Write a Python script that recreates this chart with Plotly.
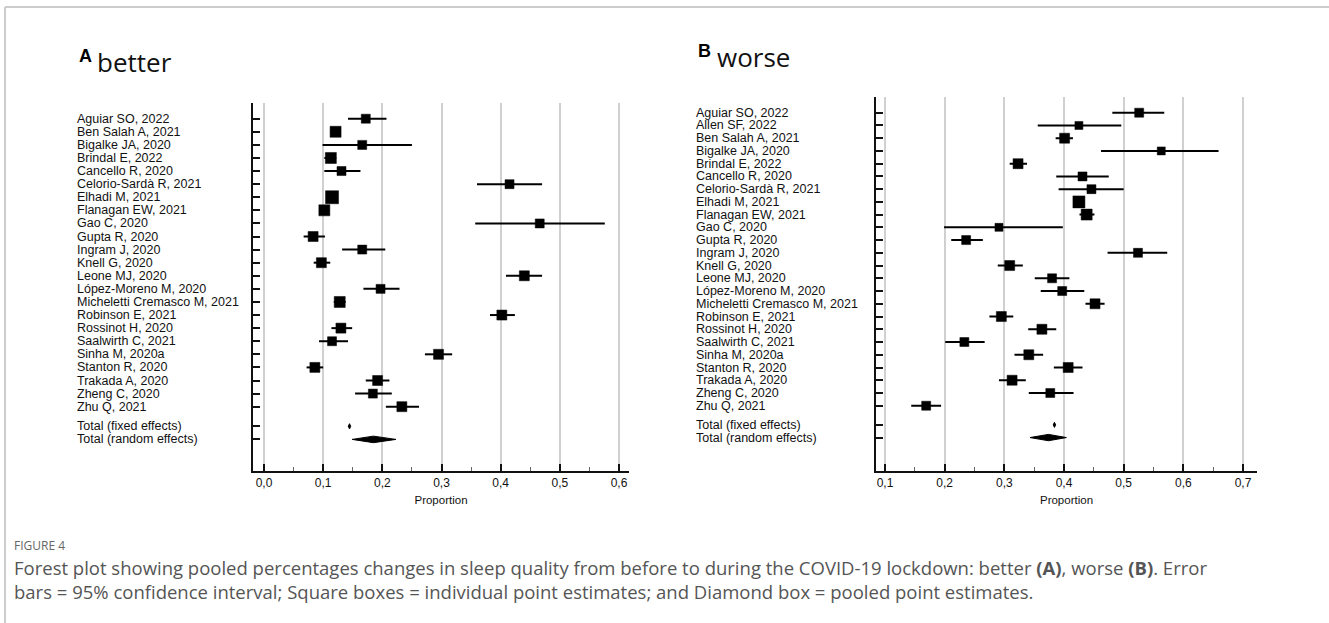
import plotly.graph_objects as go

# ---------------- data ----------------
studies_a = ["Aguiar SO, 2022", "Ben Salah A, 2021", "Bigalke JA, 2020", "Brindal E, 2022",
             "Cancello R, 2020", "Celorio-Sardà R, 2021", "Elhadi M, 2021", "Flanagan EW, 2021",
             "Gao C, 2020", "Gupta R, 2020", "Ingram J, 2020", "Knell G, 2020", "Leone MJ, 2020",
             "López-Moreno M, 2020", "Micheletti Cremasco M, 2021", "Robinson E, 2021",
             "Rossinot H, 2020", "Saalwirth C, 2021", "Sinha M, 2020a", "Stanton R, 2020",
             "Trakada A, 2020", "Zheng C, 2020", "Zhu Q, 2021"]
est_a = [0.172, 0.121, 0.166, 0.113, 0.131, 0.415, 0.115, 0.102, 0.466, 0.083, 0.166, 0.097, 0.440,
         0.197, 0.128, 0.402, 0.130, 0.115, 0.295, 0.086, 0.192, 0.184, 0.233]
lo_a = [0.142, 0.112, 0.099, 0.102, 0.102, 0.360, 0.107, 0.095, 0.357, 0.067, 0.132, 0.084, 0.409,
        0.168, 0.118, 0.382, 0.114, 0.093, 0.272, 0.072, 0.172, 0.154, 0.206]
hi_a = [0.207, 0.130, 0.250, 0.122, 0.163, 0.470, 0.125, 0.110, 0.576, 0.103, 0.205, 0.112, 0.470,
        0.229, 0.138, 0.424, 0.149, 0.142, 0.318, 0.100, 0.212, 0.216, 0.262]
pooled_labels = ["Total (fixed effects)", "Total (random effects)"]
pooled_est_a = [0.1445, 0.185]
pooled_lo_a = [0.1425, 0.149]
pooled_hi_a = [0.1465, 0.223]

studies_b = ["Aguiar SO, 2022", "Allen SF, 2022", "Ben Salah A, 2021", "Bigalke JA, 2020",
             "Brindal E, 2022", "Cancello R, 2020", "Celorio-Sardà R, 2021", "Elhadi M, 2021",
             "Flanagan EW, 2021", "Gao C, 2020", "Gupta R, 2020", "Ingram J, 2020", "Knell G, 2020",
             "Leone MJ, 2020", "López-Moreno M, 2020", "Micheletti Cremasco M, 2021",
             "Robinson E, 2021", "Rossinot H, 2020", "Saalwirth C, 2021", "Sinha M, 2020a",
             "Stanton R, 2020", "Trakada A, 2020", "Zheng C, 2020", "Zhu Q, 2021"]
est_b = [0.526, 0.425, 0.401, 0.563, 0.323, 0.431, 0.446, 0.425, 0.438, 0.291, 0.236, 0.524, 0.309,
         0.380, 0.397, 0.452, 0.295, 0.363, 0.233, 0.341, 0.407, 0.313, 0.377, 0.169]
lo_b = [0.481, 0.356, 0.386, 0.462, 0.309, 0.387, 0.391, 0.417, 0.426, 0.199, 0.211, 0.473, 0.289,
        0.351, 0.361, 0.436, 0.275, 0.340, 0.201, 0.317, 0.383, 0.291, 0.341, 0.144]
hi_b = [0.568, 0.496, 0.415, 0.659, 0.338, 0.475, 0.500, 0.434, 0.451, 0.398, 0.264, 0.573, 0.331,
        0.409, 0.434, 0.468, 0.315, 0.387, 0.267, 0.365, 0.431, 0.336, 0.416, 0.194]
pooled_est_b = [0.384, 0.374]
pooled_lo_b = [0.382, 0.343]
pooled_hi_b = [0.386, 0.404]

x_ticks_a = [0.0, 0.1, 0.2, 0.3, 0.4, 0.5, 0.6]
x_ticks_b = [0.1, 0.2, 0.3, 0.4, 0.5, 0.6, 0.7]

caption_title = "FIGURE 4"
caption_text = ("Forest plot showing pooled percentages changes in sleep quality from before to during the "
                "COVID-19 lockdown: better <b>(A)</b>, worse <b>(B)</b>. Error<br>"
                "bars = 95% confidence interval; Square boxes = individual point estimates; "
                "and Diamond box = pooled point estimates.")

# ---------------- style ----------------
size_a = [9, 11, 9, 11, 9, 9, 13, 11, 9, 10, 9, 10, 10, 9, 11, 10, 10, 9, 10, 10, 10, 9, 10]
size_b = [9, 8, 10, 8, 10, 9, 9, 12, 11, 8, 9, 9, 10, 9, 9, 10, 10, 10, 9, 10, 10, 10, 9, 9]
diamond_half = [0.2, 0.25]

W, H = 1329, 623
FONT = "Liberation Sans, Arial, sans-serif"


def px_x(p):
    return p / W


def px_y(p):
    return 1 - p / H


fig = go.Figure()


def add_panel(studies, est, lo, hi, p_est, p_lo, p_hi, sizes, xa, ya):
    n = len(studies)
    rows = list(range(n))
    fig.add_trace(go.Scatter(
        x=est, y=rows, mode="markers", xaxis=xa, yaxis=ya, showlegend=False,
        marker=dict(symbol="square", size=sizes, color="#000000", opacity=1,
                    line=dict(width=0.5, color="#000000")),
        error_x=dict(type="data", symmetric=False,
                     array=[h - e for h, e in zip(hi, est)],
                     arrayminus=[e - l for e, l in zip(est, lo)],
                     width=0, thickness=2, color="#000000"),
        hoverinfo="skip"))
    prow = [n - 1 + 1.5, n - 1 + 2.5]
    for k in range(2):
        r = prow[k]
        h = diamond_half[k]
        fig.add_trace(go.Scatter(
            x=[p_lo[k], p_est[k], p_hi[k], p_est[k], p_lo[k]],
            y=[r, r - h, r, r + h, r],
            mode="lines", fill="toself", fillcolor="black",
            line=dict(color="black", width=1), xaxis=xa, yaxis=ya,
            showlegend=False, hoverinfo="skip"))
    return rows + prow


rows_a = add_panel(studies_a, est_a, lo_a, hi_a, pooled_est_a, pooled_lo_a, pooled_hi_a, size_a, "x", "y")
rows_b = add_panel(studies_b, est_b, lo_b, hi_b, pooled_est_b, pooled_lo_b, pooled_hi_b, size_b, "x2", "y2")

# axes geometry (pixels)
# Panel A
a_left, a_right, a_zero, a_six = 253, 629, 264, 619
a_top, a_bot, a_row0, a_step = 102.7, 471, 118.7, 13.09
ppu_a = (a_six - a_zero) / 0.6
xr_a = [(a_left - a_zero) / ppu_a, 0.6 + (a_right - a_six) / ppu_a]
yr_a = [(a_bot - a_row0) / a_step, (a_top - a_row0) / a_step]
# Panel B
b_left, b_right, b_one, b_seven = 876, 1257, 885, 1243
b_top, b_bot, b_row0, b_step = 96.7, 470.7, 112.7, 12.74
ppu_b = (b_seven - b_one) / 0.6
xr_b = [0.1 - (b_one - b_left) / ppu_b, 0.7 + (b_right - b_seven) / ppu_b]
yr_b = [(b_bot - b_row0) / b_step, (b_top - b_row0) / b_step]

xcommon = dict(showline=True, linecolor="#111", linewidth=2, showgrid=True,
               gridcolor="#d0d0d0", gridwidth=1.5, zeroline=False,
               ticks="inside", ticklen=7, tickwidth=2, tickcolor="#111",
               tickformat=".1f", tickfont=dict(family=FONT, size=12, color="#111"),
               minor=dict(dtick=0.05, ticks="inside", ticklen=4, tickwidth=1,
                          tickcolor="#666", showgrid=False),
               title=dict(text="Proportion", font=dict(family=FONT, size=11.5, color="#111"), standoff=7),
               fixedrange=True)
ycommon = dict(showline=True, linecolor="#111", linewidth=2, showgrid=False, zeroline=False,
               ticks="inside", ticklen=7, tickwidth=1.5, tickcolor="#111",
               showticklabels=False, fixedrange=True)

fig.update_layout(
    width=W, height=H, margin=dict(l=0, r=0, t=0, b=0),
    paper_bgcolor="white", plot_bgcolor="white", separators=", ",
    xaxis=dict(domain=[px_x(a_left), px_x(a_right)], range=xr_a, anchor="y",
               tickvals=x_ticks_a, **xcommon),
    yaxis=dict(domain=[px_y(a_bot), px_y(a_top)], range=yr_a, anchor="x",
               tickvals=rows_a, **ycommon),
    xaxis2=dict(domain=[px_x(b_left), px_x(b_right)], range=xr_b, anchor="y2",
                tickvals=x_ticks_b, **xcommon),
    yaxis2=dict(domain=[px_y(b_bot), px_y(b_top)], range=yr_b, anchor="x2",
                tickvals=rows_b, **ycommon),
)

ann = []
labels_a = studies_a + pooled_labels
labels_b = studies_b + pooled_labels
LFONT = dict(family=FONT, size=12.5, color="#111")
for lab, r in zip(labels_a, rows_a):
    ann.append(dict(x=px_x(75), xref="paper", y=r, yref="y", text=lab, showarrow=False,
                    xanchor="left", yanchor="middle", font=LFONT))
for lab, r in zip(labels_b, rows_b):
    ann.append(dict(x=px_x(694), xref="paper", y=r, yref="y2", text=lab, showarrow=False,
                    xanchor="left", yanchor="middle", font=LFONT))

# panel titles
ann.append(dict(x=px_x(77), y=px_y(56), xref="paper", yref="paper", text="<b>A</b>", showarrow=False,
                xanchor="left", yanchor="middle", font=dict(family=FONT, size=18, color="black")))
ann.append(dict(x=px_x(95), y=px_y(62), xref="paper", yref="paper", text="better", showarrow=False,
                xanchor="left", yanchor="middle", font=dict(family="Open Sans", size=26, color="#111")))
ann.append(dict(x=px_x(696), y=px_y(51), xref="paper", yref="paper", text="<b>B</b>", showarrow=False,
                xanchor="left", yanchor="middle", font=dict(family=FONT, size=18, color="black")))
ann.append(dict(x=px_x(715), y=px_y(57), xref="paper", yref="paper", text="worse", showarrow=False,
                xanchor="left", yanchor="middle", font=dict(family="Open Sans", size=26, color="#111")))

# caption
ann.append(dict(x=px_x(12), y=px_y(545), xref="paper", yref="paper", text=caption_title, showarrow=False,
                xanchor="left", yanchor="middle", font=dict(family="Open Sans", size=12, color="#666")))
ann.append(dict(x=px_x(12), y=px_y(579.5), xref="paper", yref="paper", text=caption_text,
                showarrow=False, xanchor="left", yanchor="middle", align="left",
                font=dict(family="Open Sans", size=18.5, color="#555")))
fig.update_layout(annotations=ann)

# frame border (top and left)
fig.add_shape(type="line", xref="paper", yref="paper", x0=px_x(5), x1=1, y0=px_y(7), y1=px_y(7),
              line=dict(color="#cccccc", width=2))
fig.add_shape(type="line", xref="paper", yref="paper", x0=px_x(5), x1=px_x(5), y0=px_y(7), y1=0,
              line=dict(color="#cccccc", width=2))

fig.write_html("out.html", config={"displayModeBar": False},
               post_script="document.body.style.margin='0px';document.body.style.overflow='hidden';")
